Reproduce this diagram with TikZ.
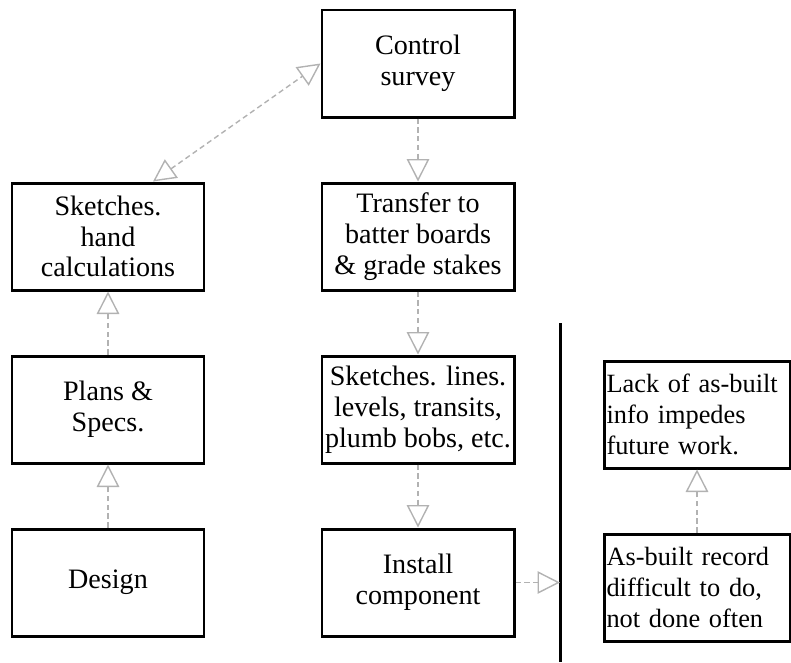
\documentclass[tikz,border=0pt]{standalone}
\usepackage{fontspec}
\setmainfont{Liberation Serif}
\usetikzlibrary{arrows.meta,positioning}

\begin{document}
\begin{tikzpicture}[node distance=3.46cm]
  \tikzstyle{box} = [rectangle, minimum width=3.84cm, minimum height=2.14cm, inner sep=1pt, text centered, align=center, draw=black, line width=1.7pt, font=\fontsize{16}{17.5}\selectfont]
  \tikzstyle{note} = [box, minimum width=3.72cm, text width=3.62cm, align=left, font=\fontsize{15}{17.5}\selectfont]
  \tikzstyle{arrow} = [gray!60, densely dashed, line width=0.8pt, >={Triangle[open,length=4.5mm,width=4.5mm,line width=0.8pt]}]

  \useasboundingbox (0,0) rectangle (15.82,-13.24);

  % field column
  \node (survey) [box] at (8.36,-1.27) {Control\\survey};
  \node (transfer) [box, below of=survey] {Transfer to\\batter boards\\\& grade stakes};
  \node (plumb) [box, below of=transfer] {Sketches. lines.\\levels, transits,\\plumb bobs, etc.};
  \node (install) [box, below of=plumb] {Install\\component};
  \draw [arrow, ->] (survey) -- (transfer);
  \draw [arrow, ->] (transfer) -- (plumb);
  \draw [arrow, ->] (plumb) -- (install);

  % office column
  \node (sketch) [box, left of=transfer, xshift=-2.74cm] {Sketches.\\hand\\calculations};
  \node (plans) [box, below of=sketch] {Plans \&\\Specs.};
  \node (design) [box, below of=plans] {Design};
  \draw [arrow, ->] (design) -- (plans);
  \draw [arrow, ->] (plans) -- (sketch);
  \draw [arrow, <->] ([xshift=9mm]sketch.north) -- (survey.west);

  % after construction
  \coordinate (railtop) at (11.2,-6.46);
  \coordinate (railend) at (11.2,-13.24);
  \draw [line width=1.7pt] (railtop) -- (railend);
  \coordinate (hit) at (install.east -| railtop);
  \draw [arrow, ->] (install.east) -- (hit);

  \node (lack) [note, right of=plumb, xshift=2.12cm, yshift=-0.1cm] {Lack of as-built\\info impedes\\future work.};
  \node (record) [note, below of=lack] {As-built record\\difficult to do,\\not done often};
  \draw [arrow, ->] (record) -- (lack);
\end{tikzpicture}
\end{document}
